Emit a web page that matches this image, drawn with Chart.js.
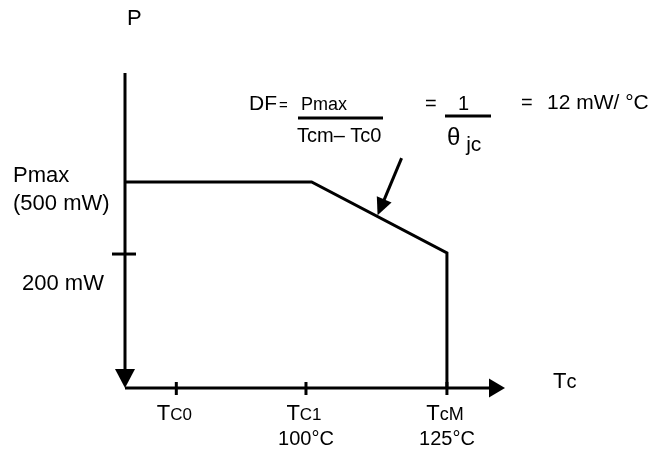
<!DOCTYPE html>
<html>
<head>
<meta charset="utf-8">
<script src="https://cdn.jsdelivr.net/npm/chart.js@4.4.1/dist/chart.umd.min.js"></script>
<style>
  html, body { margin: 0; padding: 0; background: #fff; }
</style>
</head>
<body>
<canvas id="derating" width="666" height="451"></canvas>
<script>
// axis ranges: case temperature (°C) and power (mW), schematic
const tempMin = 67.9;
const tempMax = 135.3;
const powerMin = -358;
const powerMax = 954;

// derating curve: flat at Pmax, falls to TcM, then drops to the axis
const curveTemps = [tempMin, 101, 125, 125];
const curvePower = [500, 500, 205, powerMin];

// temperature ticks
const tempTicks = [77, 100, 125];
const tempTickNames = [['T', 'C0'], ['T', 'C1'], ['T', 'cM']];
const tempTickValues = ['', '100°C', '125°C'];

// power ticks
const powerTicks = [200];
const powerTickLabels = ['200 mW'];
const pmaxValue = 500;
const pmaxLabels = ['Pmax', '(500 mW)'];

// where the DF arrow points on the slope
const arrowTarget = [112.7, 362];

const FONT = '"Liberation Sans", Arial, sans-serif';

function drawRuns(ctx, x, y, runs, align) {
    let total = 0;
    runs.forEach(r => {
        ctx.font = r.size + 'px ' + FONT;
        r.w = ctx.measureText(r.text).width;
        total += r.w;
    });
    let cx = align === 'center' ? x - total / 2 : x;
    runs.forEach(r => {
        ctx.font = r.size + 'px ' + FONT;
        ctx.fillText(r.text, cx, y + (r.dy || 0));
        cx += r.w;
    });
}

function arrowHead(ctx, tipX, tipY, fromX, fromY, len, half) {
    const a = Math.atan2(tipY - fromY, tipX - fromX);
    const bx = tipX - Math.cos(a) * len;
    const by = tipY - Math.sin(a) * len;
    ctx.beginPath();
    ctx.moveTo(tipX, tipY);
    ctx.lineTo(bx + Math.sin(a) * half, by - Math.cos(a) * half);
    ctx.lineTo(bx - Math.sin(a) * half, by + Math.cos(a) * half);
    ctx.closePath();
    ctx.fill();
}

function line(ctx, x1, y1, x2, y2) {
    ctx.beginPath();
    ctx.moveTo(x1, y1);
    ctx.lineTo(x2, y2);
    ctx.stroke();
}

const sketchPlugin = {
    id: 'sketch',
    afterDatasetsDraw(chart) {
        const ctx = chart.ctx;
        const xs = chart.scales.x;
        const ys = chart.scales.y;
        const x0 = xs.getPixelForValue(tempMin);
        const x1 = xs.getPixelForValue(tempMax);
        const y0 = ys.getPixelForValue(powerMin);
        const yTop = ys.getPixelForValue(powerMax);

        ctx.save();
        ctx.strokeStyle = '#000';
        ctx.fillStyle = '#000';
        ctx.lineWidth = 3;
        ctx.lineCap = 'butt';

        // vertical axis with arrow pointing down
        line(ctx, x0, yTop, x0, y0 - 18);
        arrowHead(ctx, x0, y0, x0, yTop, 19, 10);

        // horizontal axis with arrow pointing right
        line(ctx, x0, y0, x1 - 15, y0);
        arrowHead(ctx, x1, y0, x0, y0, 16, 9.5);

        // temperature ticks and labels
        ctx.textBaseline = 'alphabetic';
        tempTicks.forEach((t, i) => {
            const px = xs.getPixelForValue(t);
            line(ctx, px, y0 - 6, px, y0 + 7);
            const nm = tempTickNames[i];
            drawRuns(ctx, px - 2, y0 + 32, [
                { text: nm[0], size: 22 },
                { text: nm[1], size: i === 2 ? 18 : 17 }
            ], 'center');
            if (tempTickValues[i]) {
                drawRuns(ctx, px, y0 + 57, [{ text: tempTickValues[i], size: 20 }], 'center');
            }
        });

        // power ticks and labels
        powerTicks.forEach((p, i) => {
            const py = ys.getPixelForValue(p);
            line(ctx, x0 - 13, py, x0 + 11, py);
            drawRuns(ctx, 22, py + 36, [{ text: powerTickLabels[i], size: 22 }], 'left');
        });
        const pmaxY = ys.getPixelForValue(pmaxValue);
        drawRuns(ctx, 13, pmaxY, [{ text: pmaxLabels[0], size: 22 }], 'left');
        drawRuns(ctx, 13, pmaxY + 28, [{ text: pmaxLabels[1], size: 22 }], 'left');

        // axis titles
        drawRuns(ctx, 127, 25, [{ text: 'P', size: 22 }], 'left');
        drawRuns(ctx, 553, 388, [{ text: 'T', size: 22 }, { text: 'c', size: 20 }], 'left');

        // DF formula
        drawRuns(ctx, 249, 110, [{ text: 'DF', size: 21 }], 'left');
        drawRuns(ctx, 279, 110, [{ text: '=', size: 15 }], 'left');
        drawRuns(ctx, 301, 110, [{ text: 'P', size: 18 }, { text: 'max', size: 18 }], 'left');
        line(ctx, 298, 118, 383, 118);
        drawRuns(ctx, 297, 142, [{ text: 'Tcm– Tc0', size: 20 }], 'left');
        drawRuns(ctx, 425, 110, [{ text: '=', size: 20 }], 'left');
        drawRuns(ctx, 458, 110, [{ text: '1', size: 20 }], 'left');
        line(ctx, 445, 116, 491, 116);
        drawRuns(ctx, 447, 145, [{ text: 'θ', size: 24 }, { text: ' jc', size: 21, dy: 6 }], 'left');
        drawRuns(ctx, 521, 109, [{ text: '=', size: 20 }], 'left');
        drawRuns(ctx, 547, 109, [{ text: '12 mW/ °C', size: 21 }], 'left');

        // arrow pointing at the sloped part
        const tx = xs.getPixelForValue(arrowTarget[0]);
        const ty = ys.getPixelForValue(arrowTarget[1]);
        const sx = tx + 24;
        const sy = ty - 57;
        line(ctx, sx, sy, tx + 6, ty - 14);
        arrowHead(ctx, tx, ty, sx, sy, 17, 8);

        ctx.restore();
    }
};

const ctx = document.getElementById('derating').getContext('2d');
new Chart(ctx, {
    type: 'scatter',
    data: {
        datasets: [{
            label: 'Pd',
            data: curveTemps.map((t, i) => ({ x: t, y: curvePower[i] })),
            showLine: true,
            borderColor: '#000',
            borderWidth: 3,
            borderJoinStyle: 'miter',
            pointRadius: 0,
            tension: 0,
            clip: false
        }]
    },
    options: {
        responsive: false,
        animation: false,
        layout: {
            padding: { left: 125, right: 161, top: 73, bottom: 63 }
        },
        plugins: {
            legend: { display: false },
            tooltip: { enabled: false }
        },
        scales: {
            x: { type: 'linear', display: false, min: tempMin, max: tempMax },
            y: { type: 'linear', display: false, min: powerMin, max: powerMax }
        }
    },
    plugins: [sketchPlugin]
});
</script>
</body>
</html>
